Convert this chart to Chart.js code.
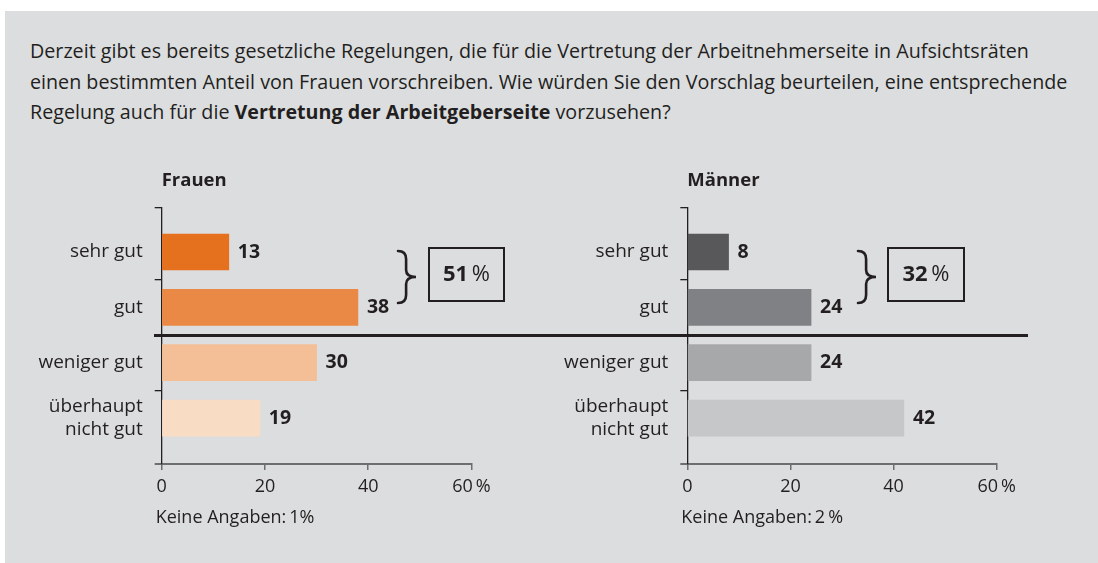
<!DOCTYPE html>
<html><head><meta charset="utf-8">
<script src="https://cdn.jsdelivr.net/npm/chart.js@4"></script>
<style>
html,body{margin:0;padding:0;}
body{background:#fff;width:1098px;height:563px;overflow:hidden;position:relative;font-family:"Open Sans",sans-serif;color:#231f20;}
#panel{position:absolute;left:5px;top:11px;right:0;bottom:0;background:#dcdddf;}
#q{position:absolute;left:30px;top:36px;width:1068px;font-size:19.7px;line-height:30.5px;color:#231f20;white-space:nowrap;}
#q b{font-weight:700;}
.cw{position:absolute;top:150px;height:413px;}
#sep{position:absolute;left:154px;top:334px;width:874px;height:3px;background:#231f20;z-index:5;}
</style>
</head><body>
<div id="panel"></div>
<div id="q">Derzeit gibt es bereits gesetzliche Regelungen, die für die Vertretung der Arbeitnehmerseite in Aufsichtsräten<br>einen bestimmten Anteil von Frauen vorschreiben. Wie würden Sie den Vorschlag beurteilen, eine entsprechende<br>Regelung auch für die <b>Vertretung der Arbeitgeberseite</b> vorzusehen?</div>
<div class="cw" style="left:0;width:530px;"><canvas id="cF"></canvas></div>
<div class="cw" style="left:525px;width:540px;"><canvas id="cM"></canvas></div>
<div id="sep"></div>
<script>
// ---- data ----
const categories = ['sehr gut', 'gut', 'weniger gut', 'überhaupt\nnicht gut'];
const frauenValues = [13, 38, 30, 19];
const maennerValues = [8, 24, 24, 42];
const xTickValues = [0, 20, 40, 60];
const xTickUnit = '\u2009%';
const frauenColors = ['#e5701e', '#ea8945', '#f4bf96', '#f9dcc4'];
const maennerColors = ['#58585a', '#808184', '#a7a8aa', '#c6c7c9'];
const frauenTitle = 'Frauen';
const maennerTitle = 'Männer';
const frauenTotal = '51';
const maennerTotal = '32';
const frauenNote = 'Keine Angaben:\u20091%';
const maennerNote = 'Keine Angaben:\u20092\u2009%';

Chart.defaults.font.family = '"Open Sans", sans-serif';
Chart.defaults.color = '#231f20';

const INK = '#231f20';
const AXISGRAY = '#6d6e71';

function makeChart(id, values, colors, deco) {
  const yTickVals = [-0.8, 0, 0.5, 1, 1.5, 2, 2.5, 3, 3.83];
  const decoPlugin = {
    id: 'deco_' + id,
    afterDraw(chart) {
      const ctx = chart.ctx;
      const area = chart.chartArea;
      const meta = chart.getDatasetMeta(0);
      ctx.save();
      ctx.fillStyle = INK;
      ctx.font = '700 19.5px "Open Sans"';
      ctx.textBaseline = 'middle';
      ctx.textAlign = 'left';
      meta.data.forEach((bar, i) => {
        ctx.fillText(String(values[i]), bar.x + 9, bar.y);
      });
      ctx.font = '700 18.5px "Open Sans"';
      ctx.fillText(deco.title, area.left, 31);
      ctx.font = '400 18px "Open Sans"';
      ctx.fillText(deco.note, area.left - 6, 368);
      const bx = deco.braceX, by0 = 101, by1 = 153, bm = (by0 + by1) / 2, bw = 18;
      ctx.strokeStyle = INK;
      ctx.lineWidth = 2.6;
      ctx.lineCap = 'round';
      ctx.beginPath();
      ctx.moveTo(bx, by0);
      ctx.quadraticCurveTo(bx + bw * 0.45, by0, bx + bw * 0.45, by0 + 8);
      ctx.lineTo(bx + bw * 0.45, bm - 7);
      ctx.quadraticCurveTo(bx + bw * 0.45, bm, bx + bw, bm);
      ctx.quadraticCurveTo(bx + bw * 0.45, bm, bx + bw * 0.45, bm + 7);
      ctx.lineTo(bx + bw * 0.45, by1 - 8);
      ctx.quadraticCurveTo(bx + bw * 0.45, by1, bx, by1);
      ctx.stroke();
      ctx.lineWidth = 2;
      ctx.strokeRect(deco.boxX, 98, deco.boxW, 53);
      const cx = deco.boxX + deco.boxW / 2, cy = 125;
      ctx.font = '700 22px "Open Sans"';
      const w1 = ctx.measureText(deco.total).width;
      ctx.font = '400 22px "Open Sans"';
      const w2 = ctx.measureText('\u2009%').width;
      const sx = cx - (w1 + w2) / 2;
      ctx.font = '700 22px "Open Sans"';
      ctx.fillText(deco.total, sx, cy);
      ctx.font = '400 22px "Open Sans"';
      ctx.fillText('\u2009%', sx + w1, cy);
      ctx.restore();
    }
  };
  const tv = c => (c && c.tick ? c.tick.value : 0);
  return new Chart(document.getElementById(id), {
    type: 'bar',
    data: {
      datasets: [{
        data: values.map((v, i) => ({ x: v, y: i })),
        backgroundColor: colors,
        borderWidth: 0,
        barThickness: 36
      }]
    },
    options: {
      indexAxis: 'y',
      responsive: true,
      maintainAspectRatio: false,
      animation: false,
      layout: { padding: { top: 57.7, right: deco.padRight, bottom: 0, left: 0 } },
      plugins: { legend: { display: false }, tooltip: { enabled: false } },
      scales: {
        x: {
          type: 'linear', min: 0, max: 60,
          afterBuildTicks: s => { s.ticks = xTickValues.map(v => ({ value: v })); },
          afterFit: s => { s.height = 99; },
          ticks: {
            padding: 6,
            font: { size: 18 },
            color: INK,
            callback: v => v === 60 ? v + xTickUnit : String(v)
          },
          grid: { drawOnChartArea: false, drawTicks: true, tickLength: 6, color: AXISGRAY, lineWidth: 1.5 },
          border: { display: true, color: AXISGRAY, width: 2 }
        },
        y: {
          type: 'linear', reverse: true, min: -0.8, max: 3.83, offset: false, grace: 0,
          afterBuildTicks: s => { s.ticks = yTickVals.map(v => ({ value: v })); },
          afterFit: s => { s.width = deco.yWidth; },
          ticks: {
            autoSkip: false,
            padding: 12,
            font: { size: 19, lineHeight: 1.22 },
            color: INK,
            callback: v => {
              if (Number.isInteger(v) && v >= 0 && v < categories.length) return categories[v].split('\n');
              return '';
            }
          },
          grid: {
            offset: false,
            drawOnChartArea: false, drawTicks: true, tickLength: 7,
            color: c => (Number.isInteger(tv(c)) ? 'rgba(0,0,0,0)' : (tv(c) > 3.5 ? AXISGRAY : INK)),
            lineWidth: c => (tv(c) > 3.5 ? 2 : 1.3)
          },
          border: { display: true, color: INK, width: 1.3 }
        }
      }
    },
    plugins: [decoPlugin]
  });
}

makeChart('cF', frauenValues, frauenColors, {
  title: frauenTitle, note: frauenNote, total: frauenTotal,
  yWidth: 161.7, padRight: 58.5, braceX: 398, boxX: 429, boxW: 75
});
makeChart('cM', maennerValues, maennerColors, {
  title: maennerTitle, note: maennerNote, total: maennerTotal,
  yWidth: 162.3, padRight: 68.3, braceX: 333, boxX: 363, boxW: 76
});
</script>
</body></html>
